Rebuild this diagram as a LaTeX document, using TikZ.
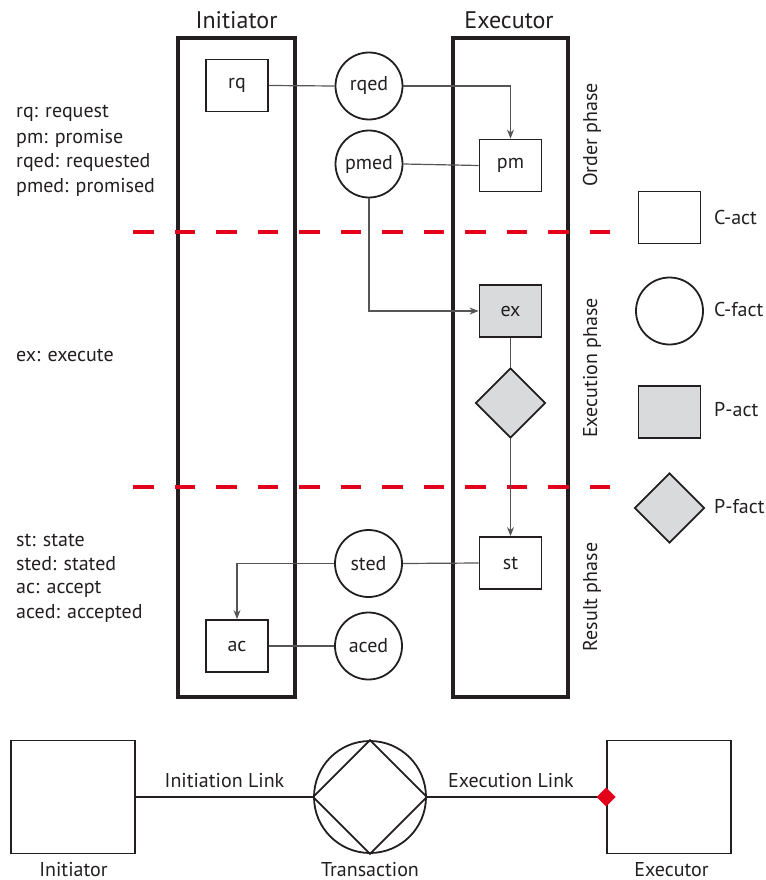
\documentclass[tikz,border=0pt]{standalone}
\usepackage{fontspec}
\setmainfont{PT Sans}
\usetikzlibrary{shapes.geometric,arrows.meta}
\definecolor{ink}{HTML}{231F20}
\definecolor{wire}{HTML}{555555}
\definecolor{pfill}{HTML}{D9DADB}
\definecolor{phasered}{HTML}{E2001A}
\tikzset{
  lbl/.style={font=\fontsize{20}{24}\selectfont, text=ink, inner sep=0pt},
  title/.style={font=\fontsize{24}{28}\selectfont, text=ink, inner sep=0pt},
  lane/.style={draw=ink, line width=3.6pt},
  cact/.style={draw=ink, line width=1.8pt, rectangle, minimum width=62pt, minimum height=52pt, inner sep=0pt, lbl},
  pact/.style={cact, fill=pfill},
  cfact/.style={draw=ink, line width=1.8pt, circle, minimum size=67pt, inner sep=0pt, lbl},
  pfact/.style={draw=ink, line width=1.8pt, diamond, fill=pfill, minimum width=70pt, minimum height=70pt, inner sep=0pt},
  conn/.style={draw=wire, line width=1.2pt},
  arr/.style={conn, -{Stealth[length=9pt,width=7pt]}},
  phase/.style={draw=phasered, line width=4pt, dash pattern=on 20.5pt off 21pt},
  rlbl/.style={lbl, rotate=90},
  actor/.style={draw=ink, line width=1.8pt, rectangle, minimum width=124pt, minimum height=113pt, inner sep=0pt},
  link/.style={draw=ink, line width=1.8pt}
}
\begin{document}
\begin{tikzpicture}[x=1pt,y=-1pt]
\useasboundingbox (0,0) rectangle (765,880);

% actor lanes
\draw[lane] (178,38) rectangle (295,697);
\draw[lane] (453,38) rectangle (568,697);
\node[title] (tinit) at (236.5,20) {Initiator};
\node[title] (texec) at (509,20) {Executor};

% phase separators
\coordinate (s1a) at (133,232);
\coordinate (s1b) at (610,232);
\coordinate (s2a) at (133,487);
\coordinate (s2b) at (610,487);
\draw[phase] (s1a) -- (s1b);
\draw[phase] (s2a) -- (s2b);

% order phase
\node[cact] (rq) at (237,85.5) {rq};
\node[cfact] (rqed) at (369,86) {rqed};
\node[cfact] (pmed) at (369,164) {pmed};
\node[cact] (pm) at (510.5,165.5) {pm};

% execution phase
\node[pact] (ex) at (510.5,311) {ex};
\node[pfact] (pf) at (510.5,403) {};

% result phase
\node[cact] (st) at (510.5,563) {st};
\node[cfact] (sted) at (368.5,563.5) {sted};
\node[cact] (ac) at (237,646) {ac};
\node[cfact] (aced) at (368.5,646) {aced};

% connectors
\draw[conn] (rq.east) -- (rqed.west);
\draw[arr] (rqed.east) -| (pm.north);
\draw[conn] (pmed.east) -- (pm.west);
\draw[arr] (pmed.south) |- (ex.west);
\draw[conn] (ex.south) -- (pf.north);
\draw[arr] (pf.south) -- (st.north);
\draw[conn] (st.west) -- (sted.east);
\draw[arr] (sted.west) -| (ac.north);
\draw[conn] (ac.east) -- (aced.west);

% phase names
\node[rlbl] (pord) at (592,135) {Order phase};
\node[rlbl] (pexe) at (592,368) {Execution phase};
\node[rlbl] (pres) at (592,597) {Result phase};

% abbreviations
\node[lbl, anchor=west] (k1) at (16,113) {rq: request};
\node[lbl, anchor=west] (k2) at (16,138) {pm: promise};
\node[lbl, anchor=west] (k3) at (16,162.5) {rqed: requested};
\node[lbl, anchor=west] (k4) at (16,187) {pmed: promised};
\node[lbl, anchor=west] (k5) at (16,355) {ex: execute};
\node[lbl, anchor=west] (k6) at (16,540) {st: state};
\node[lbl, anchor=west] (k7) at (16,564) {sted: stated};
\node[lbl, anchor=west] (k8) at (16,589) {ac: accept};
\node[lbl, anchor=west] (k9) at (16,613) {aced: accepted};

% legend
\node[cact] (lca) at (669.5,217.5) {};
\node[lbl, anchor=west] (lcat) at (714,217.5) {C-act};
\node[cfact] (lcf) at (669.5,311) {};
\node[lbl, anchor=west] (lcft) at (714,309) {C-fact};
\node[pact] (lpa) at (669.5,412) {};
\node[lbl, anchor=west] (lpat) at (714,410) {P-act};
\node[pfact] (lpf) at (669.5,508) {};
\node[lbl, anchor=west] (lpft) at (714,507) {P-fact};

% actor / transaction overview
\node[actor] (ini) at (73,797) {};
\node[actor] (exe) at (669,797) {};
\node[draw=ink, line width=1.8pt, circle, minimum size=112pt, inner sep=0pt] (tr) at (370,797) {};
\draw[link] (tr.north) -- (tr.east) -- (tr.south) -- (tr.west) -- cycle;
\draw[link] (ini.east) -- (tr.west);
\draw[link] (tr.east) -- (exe.west);
\node[diamond, fill=phasered, minimum width=19pt, minimum height=19pt, inner sep=0pt] (exd) at (exe.west) {};
\node[lbl] (lini) at (224.5,781) {Initiation Link};
\node[lbl] (lexe) at (511,781) {Execution Link};
\node[lbl, anchor=base] (nini) at (73.5,876) {Initiator};
\node[lbl, anchor=base] (ntr) at (370,876) {Transaction};
\node[lbl, anchor=base] (nexe) at (671.5,876) {Executor};
\end{tikzpicture}
\end{document}
